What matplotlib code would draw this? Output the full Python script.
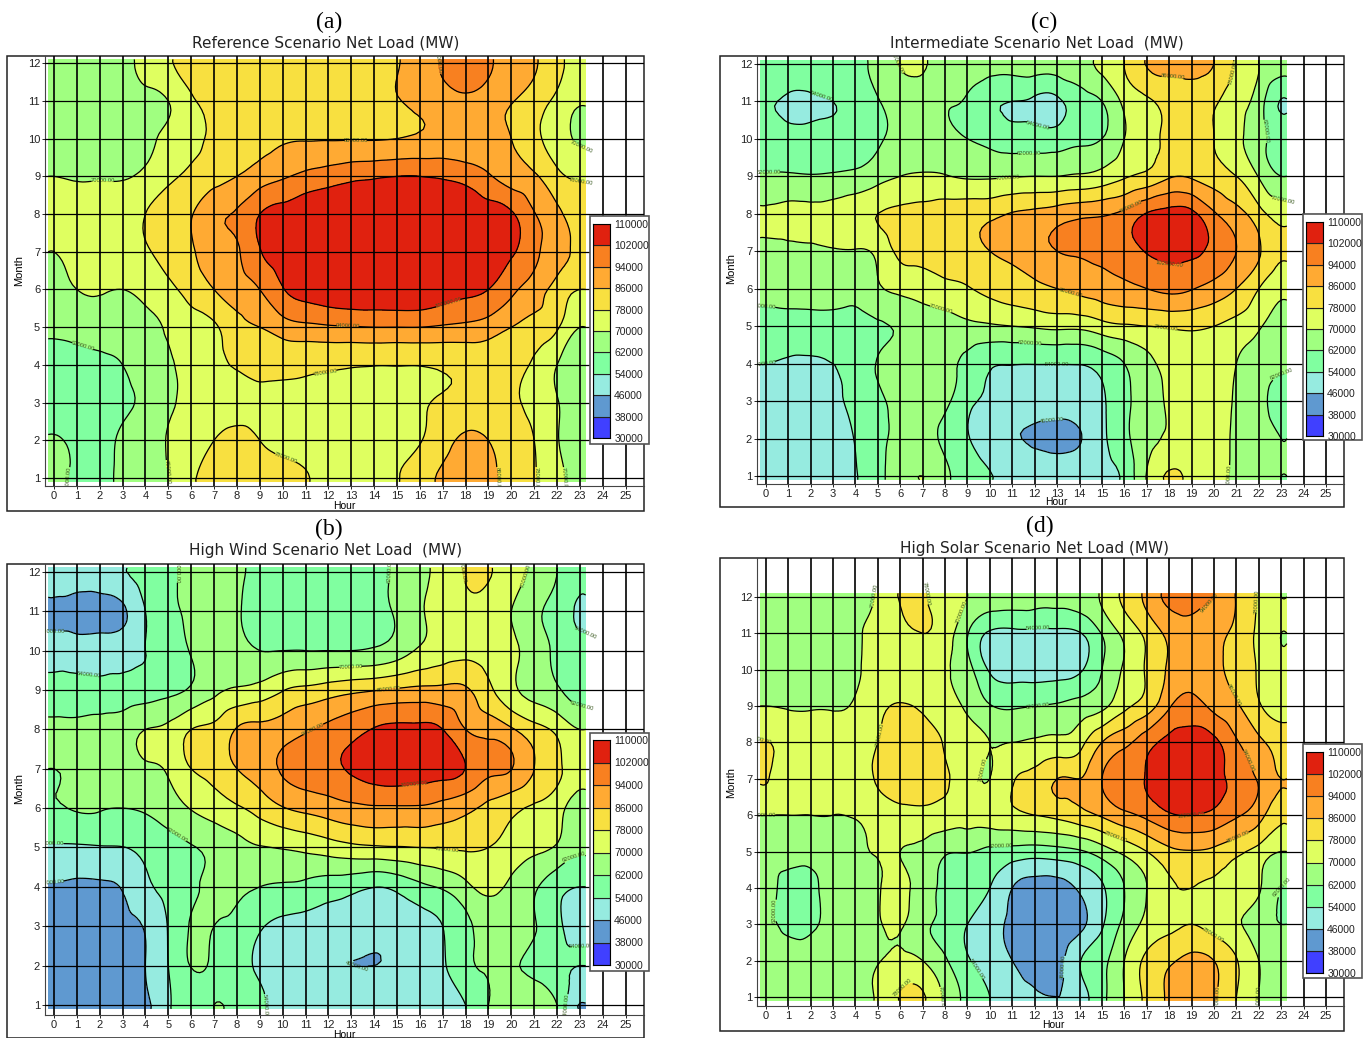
import numpy as np
import matplotlib
matplotlib.use("Agg")
import matplotlib.pyplot as plt
import matplotlib.tri as mtri
from matplotlib.colors import ListedColormap, BoundaryNorm
from matplotlib.patches import Rectangle

plt.rcParams['font.family'] = ['Liberation Sans', 'DejaVu Sans']

W, H = 1369, 1038

hours = list(range(24))
months = list(range(1, 13))
levels = [30000, 38000, 46000, 54000, 62000, 70000, 78000, 86000, 94000, 102000, 110000]
colors = ['#4040ff', '#5f99d0', '#96ebe0', '#80ffa0', '#a0ff80',
          '#dfff60', '#f8e040', '#ffaa33', '#f88020', '#e0210f']

# net load in GW, one row per month (1..12), one value per hour (0..23)
reference = [
    [64, 60.5, 60.5, 63, 66, 70, 77, 80, 81, 81, 80, 78.5, 76, 75, 76, 77.5, 83, 87, 89, 87.5, 83, 78.5, 72, 68],
    [63, 60, 60, 63, 66, 70.5, 74, 78, 80.5, 78, 76, 75, 74, 74, 74, 75, 77.5, 83, 87.5, 86, 82, 78, 70.5, 67],
    [57, 58, 59, 60.5, 64, 69, 71, 73, 75, 76, 76, 76, 76, 76, 76, 76, 77, 79, 80, 80, 79, 76, 70.5, 66],
    [58, 59, 60, 62, 66, 69, 73, 76.5, 78.5, 80, 80, 79.5, 79, 78.5, 78.2, 78.2, 78.2, 79, 80, 81, 80, 77, 70, 65],
    [64, 65, 66, 67, 68, 71, 75, 77, 83, 86, 90, 92, 93, 93.5, 94, 94, 94, 93, 92, 90, 86, 83, 79, 70],
    [69, 70, 70.5, 70, 72, 76, 81, 86, 90, 94, 101.5, 105, 107, 108, 108, 108, 108, 106, 104, 102, 96, 90, 83, 78],
    [70, 72, 73, 75, 77, 81, 85, 90, 93, 101.5, 106, 108, 109, 109, 109, 109, 109, 109, 108, 106, 103, 96, 89, 85],
    [71, 73, 74, 76, 78, 82, 85.5, 92, 95, 102, 105, 107, 108, 108, 108, 108, 108, 108, 107, 105, 103, 94.5, 88, 82],
    [70, 69, 69, 69, 72, 76, 80, 83, 86, 90, 93, 96, 98, 100, 101, 102, 102, 101, 99, 95, 90, 87, 80, 77],
    [63, 64, 64, 65, 68, 72, 76, 79, 81, 83, 85, 85.5, 85.5, 85.5, 85.5, 86, 87, 88, 88, 88, 86, 80, 74, 69],
    [65, 66, 66, 66, 68, 70, 77, 79, 80, 81, 81, 82, 82, 83, 84, 85.5, 88, 90, 92, 90, 86.5, 82, 76, 71],
    [66, 66, 66, 68, 72, 77, 80, 81, 81, 81, 81, 82, 82, 83, 84, 85.5, 90, 95, 98, 95, 91, 87, 80, 76],
]
intermediate = [
    [50, 50, 50, 51, 53.5, 60, 66, 70, 64, 58, 54.5, 51, 50, 50, 50.5, 52, 56, 70.5, 78.8, 76, 72, 69, 65, 62],
    [50, 50, 50, 50, 54.5, 60, 64, 65, 60, 54.5, 50, 47, 45, 44, 45.5, 52, 60, 67, 71, 72, 72, 69, 65, 62],
    [50, 50, 50, 51, 57, 60, 66, 67, 64, 56, 53, 51, 50, 49, 50, 53, 60, 66, 71, 73, 73, 69, 64, 60],
    [54, 53.5, 53.5, 54, 57, 62.5, 66, 67, 64, 60, 55, 54.3, 54.2, 54.2, 54.3, 57, 62, 68, 72, 74, 73, 70, 66, 63],
    [58, 58, 58, 58.5, 59, 61, 63, 65, 66, 68, 69, 70, 71, 72, 72, 75, 77, 78, 79, 79.5, 78, 75, 71, 66],
    [65, 66, 66.5, 66, 65, 69, 72, 74, 76, 77.5, 80, 82, 84, 86, 88, 90, 92, 94, 96, 94.5, 91, 86, 78, 72],
    [68, 68.5, 69, 69.5, 69.5, 72, 80, 81, 82, 83, 86, 88, 91, 94, 95, 96, 98, 102.5, 104, 103.5, 100, 94, 87, 79],
    [71, 72, 72, 73, 75, 78, 80, 81, 82, 83, 84, 86.5, 88, 90, 92, 93, 96, 102.5, 105, 104, 95, 89, 81, 75],
    [63, 63, 62.5, 63, 64, 67, 70, 71, 70.5, 69, 69, 69.5, 70, 70, 71, 73, 77, 80, 85, 85, 82, 78, 69.5, 62],
    [57, 57, 57, 57, 58, 61, 64, 65, 64, 62, 60, 58, 58, 58, 60, 62, 70, 76, 79, 80, 78, 72, 65, 59],
    [55, 52.5, 52.5, 54, 57, 61.5, 65, 66, 63, 61, 56, 54, 52.5, 52.5, 58, 62, 72, 77, 80, 81, 79, 73, 66, 53.5],
    [60, 60, 60, 60, 61, 64, 70.5, 70.5, 68, 65, 64, 64, 65, 65, 67, 72, 78, 86.5, 88, 88, 86, 77, 70, 65],
]
high_wind = [
    [40, 41, 42, 44, 44.5, 53, 58, 62, 60, 55, 52, 50, 49, 49, 50, 50, 51, 52, 54, 62, 65, 66, 62, 45.5],
    [42, 42, 43, 44, 46, 54, 62.2, 61, 57, 53, 50.5, 48, 46.5, 46, 46, 47, 49, 53, 60, 63, 63, 60, 55.5, 54],
    [44, 44, 44, 45, 46.5, 54.5, 62.5, 62, 60, 55, 52, 51, 50, 49, 48, 49, 51, 54, 60, 65, 65, 62.5, 56, 51],
    [45.5, 45, 45, 46.5, 52, 57, 61, 63, 63, 62, 61, 60, 58, 56.5, 54.2, 56, 60, 63, 68, 72, 68, 63, 57, 54],
    [53, 53, 53.5, 53.8, 56, 59, 61.5, 64, 67, 69.5, 70.5, 72, 74, 76, 77, 77.5, 78, 78.5, 79, 78, 75, 72, 69, 64],
    [61.5, 62.5, 62.5, 62, 63, 66, 70.5, 74, 77, 81, 85.5, 88, 90, 92, 93, 93, 93, 91, 88, 84, 80, 77, 73, 66],
    [62, 63, 64, 65.5, 69, 71, 78, 81, 86, 90, 95, 98, 100, 103, 106, 107, 106, 105, 101.9, 96, 94.2, 86, 80, 73],
    [64, 64, 65, 66, 70, 72, 78, 80, 86.5, 88, 90, 93, 96, 99, 102.5, 104, 104, 102, 94, 91, 87, 81, 76, 70],
    [56, 56, 56, 57, 58, 60, 63, 68, 71, 73, 77.5, 80, 82, 84, 85.5, 87, 88, 88, 87, 80, 72, 67, 63, 58],
    [51, 51, 51, 51, 54, 57, 62.5, 64, 64, 62, 62, 62, 62, 62, 63, 66, 71, 74, 76, 75, 72, 66, 60, 55],
    [44, 42, 42, 44.5, 54, 60, 63, 64, 62.5, 60, 58, 57, 57, 58, 60, 63, 69, 73, 76, 75, 70, 63.5, 59, 53],
    [50, 50, 51, 53.5, 57, 61, 63, 63, 62.5, 61, 60, 60, 60, 60, 61, 63, 68, 73, 78.5, 78.5, 74, 68, 62, 55],
]
high_solar = [
    [66, 65, 65, 66, 68, 71, 78.5, 79, 68, 60, 54, 49, 47, 46, 50, 60, 70, 80, 87, 89, 87, 78, 70, 66],
    [65, 65, 65, 65, 67, 69.5, 72, 70, 63, 55, 50, 46, 42, 43, 53.5, 60, 70, 80, 85, 88, 86, 78.5, 70, 66],
    [63.5, 60, 61, 63, 65, 69, 71, 64, 60, 54, 49, 44, 40.5, 40.5, 44, 53, 64, 72, 76, 78, 75, 71, 66, 62],
    [64, 59.5, 60, 64, 64, 69, 72, 66, 60, 56, 54, 46, 43, 43, 47, 53, 62, 70, 77, 78, 77, 75, 71, 62],
    [64, 65, 65, 66, 68, 70.5, 70, 68, 63, 62.5, 60, 59, 58, 59, 61, 66, 72, 78, 84, 85.5, 84, 80, 75, 70],
    [70, 70, 70, 70, 70.5, 73, 75, 76, 75, 73, 74, 76, 78, 80, 83, 87, 92, 96, 101, 102, 100, 95, 89, 80],
    [78.5, 73, 71, 71, 74, 79, 83, 81, 78.5, 74, 70, 77, 81, 86, 86, 94, 98, 102.5, 106, 108, 105, 99, 93, 86],
    [78.5, 74, 72, 71.5, 74, 78, 83, 82, 77.5, 74, 70, 70, 71, 72, 75, 86, 92, 99, 104, 106, 104, 95, 88, 83],
    [70, 69.5, 69.5, 69.5, 71, 76, 78.5, 77, 74, 68.5, 62.5, 61, 62, 63, 65, 68, 76, 82, 93, 97, 92, 87, 79, 74],
    [64, 65, 66, 66, 69, 72, 74, 76, 71, 65, 53, 50, 50, 51, 53, 62, 71, 79, 87, 90, 88, 83, 77, 71],
    [64, 65, 65, 66, 69, 72, 76, 78, 74, 62.5, 53, 52, 52, 52, 53.5, 62.5, 72, 80, 88, 90, 88, 84, 76, 70],
    [63, 64, 64, 65, 67, 71, 78.5, 78.5, 74, 70, 66, 65, 64.5, 64, 66, 71, 80, 88, 96, 96, 93.8, 85.5, 77, 70],
]

# all positions below are pixels of the 1369x1038 picture
panels = [
    dict(tag='(a)', tag_xy=(329, 22), title='Reference Scenario Net Load (MW)', title_xy=(326, 43),
         z=reference, ax_box=(45, 644, 56, 486), ylim=(0.79, 12.19), frame=(7, 644, 56, 511),
         hour_xy=(344, 505), month_xy=(19, 271), cbar=(593, 610, 224, 438), cbox=(590, 649, 216, 444)),
    dict(tag='(b)', tag_xy=(329, 529), title='High Wind Scenario Net Load  (MW)', title_xy=(326, 550),
         z=high_wind, ax_box=(45, 644, 564, 1015), ylim=(0.746, 12.2), frame=(7, 644, 564, 1038),
         hour_xy=(344, 1034), month_xy=(19, 789), cbar=(593, 610, 740, 965), cbox=(590, 649, 733, 971)),
    dict(tag='(c)', tag_xy=(1044, 22), title='Intermediate Scenario Net Load  (MW)', title_xy=(1037, 43),
         z=intermediate, ax_box=(757, 1344, 56, 484), ylim=(0.786, 12.21), frame=(720, 1344, 56, 507),
         hour_xy=(1056, 501), month_xy=(731, 269), cbar=(1306, 1323, 222, 436), cbox=(1303, 1362, 214, 440)),
    dict(tag='(d)', tag_xy=(1040, 526), title='High Solar Scenario Net Load (MW)', title_xy=(1035, 548),
         z=high_solar, ax_box=(757, 1344, 558, 1006), ylim=(0.752, 13.07), frame=(720, 1344, 558, 1031),
         hour_xy=(1053, 1024), month_xy=(731, 783), cbar=(1306, 1323, 752, 973), cbox=(1303, 1362, 744, 978)),
]


def fx(px):
    return px / W


def fy(py):
    return 1 - py / H


def add_px_axes(box):
    l, r, t, b = box
    return fig.add_axes([fx(l), fy(b), (r - l) / W, (b - t) / H])


cmap = ListedColormap(colors)
norm = BoundaryNorm(levels, cmap.N)

fig = plt.figure(figsize=(W / 100, H / 100), dpi=100)

for p in panels:
    l, r, t, b = p['frame']
    fig.add_artist(Rectangle((fx(l), fy(b)), (r - l) / W, (b - t) / H, transform=fig.transFigure,
                             fill=False, ec='#222222', lw=1.1, zorder=0))

    ax = add_px_axes(p['ax_box'])
    ax.patch.set_alpha(0)
    # the surface runs a little past the first and last hour / month
    x = [-0.25] + hours + [23.25]
    y = [0.9] + months + [12.1]
    z = np.pad(np.array(p['z'], dtype=float) * 1000, 1, mode='edge')
    X, Y = np.meshgrid(x, y)
    # the original contours are spline smoothed, so refine before contouring
    tri = mtri.Triangulation(X.ravel(), Y.ravel())
    tri_fine, z_fine = mtri.UniformTriRefiner(tri).refine_field(z.ravel(), subdiv=3)
    z_fine = np.clip(z_fine, levels[0] + 1, levels[-1] - 1)
    ax.tricontourf(tri_fine, z_fine, levels=levels, cmap=cmap, norm=norm)
    cs = ax.tricontour(tri_fine, z_fine, levels=levels[1:-1], colors='black', linewidths=0.9)
    labs = ax.clabel(cs, fmt='%.2f', fontsize=4.2, inline=True, inline_spacing=0)
    for lab in labs:
        lab.set_color('#3a5a20')

    for h in range(26):
        ax.axvline(h, color='black', lw=1.2, zorder=5)
    for m in months:
        ax.axhline(m, color='black', lw=0.9, zorder=5)

    ax.set_xlim(-0.39, 25.8)
    ax.set_ylim(*p['ylim'])
    ax.set_xticks(range(26))
    ax.set_yticks(months)
    ax.tick_params(labelsize=8, length=2.5, width=0.7, pad=1, colors='#222222')
    for s in ['top', 'right']:
        ax.spines[s].set_visible(False)
    for s in ['left', 'bottom']:
        ax.spines[s].set_color('#444444')

    fig.text(fx(p['tag_xy'][0]), fy(p['tag_xy'][1]), p['tag'], family='Liberation Serif',
             fontsize=17, ha='center', va='center')
    fig.text(fx(p['title_xy'][0]), fy(p['title_xy'][1]), p['title'], family='DejaVu Sans', fontsize=11,
             ha='center', va='center', color='#222222')
    fig.text(fx(p['hour_xy'][0]), fy(p['hour_xy'][1] + 1), 'Hour', fontsize=7.5, ha='center', va='center')
    fig.text(fx(p['month_xy'][0]), fy(p['month_xy'][1]), 'Month', fontsize=8, rotation=90,
             ha='center', va='center')

    # colour key in its own little box
    l, r, t, b = p['cbox']
    fig.add_artist(Rectangle((fx(l), fy(b)), (r - l) / W, (b - t) / H, transform=fig.transFigure,
                             fc='white', ec='#555555', lw=1.2, zorder=6))
    cax = add_px_axes(p['cbar'])
    cax.set_zorder(7)
    cax.bar([0] * 10, np.diff(levels), bottom=levels[:-1], width=1, color=colors,
            edgecolor='#222222', linewidth=0.8)
    cax.set_xlim(-0.5, 0.5)
    cax.set_ylim(levels[0], levels[-1])
    cax.set_xticks([])
    cax.yaxis.tick_right()
    cax.set_yticks(levels)
    cax.tick_params(length=0, labelsize=7.5, pad=3, colors='#222222')

fig.savefig('out.png', dpi=100)
